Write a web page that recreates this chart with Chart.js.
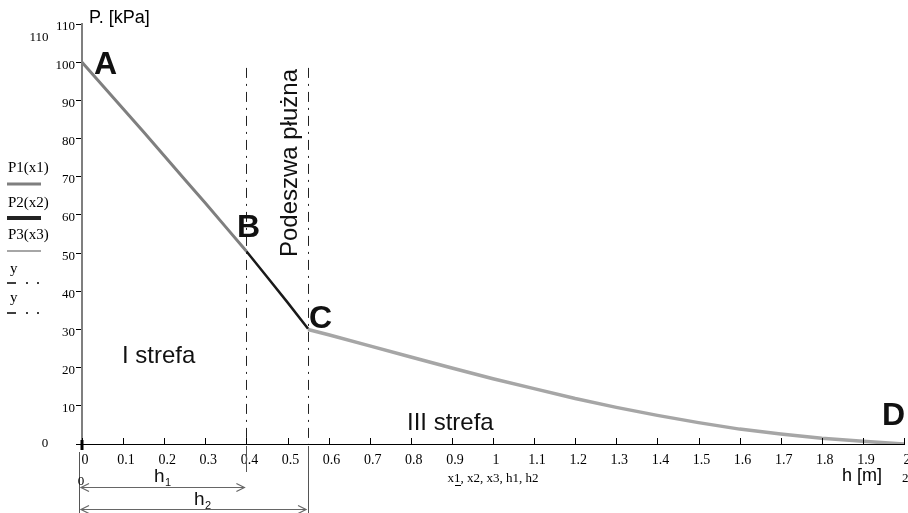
<!DOCTYPE html>
<html>
<head>
<meta charset="utf-8">
<script src="https://cdn.jsdelivr.net/npm/chart.js@4/dist/chart.umd.min.js"></script>
<style>
  body { margin: 0; background: #fff; }
  canvas { display: block; }
</style>
</head>
<body>
<canvas id="chart" width="908" height="513"></canvas>
<script>
// pressure P [kPa] against depth h [m], three zones
var p1_h = [0, 0.05, 0.1, 0.15, 0.2, 0.25, 0.3, 0.35, 0.4];
var p1_val = [100, 93.9, 87.8, 81.7, 75.5, 69.3, 63.1, 56.8, 50.5];

var p2_h = [0.4, 0.45, 0.5, 0.55];
var p2_val = [50.5, 43.8, 37.1, 30.2];

var p3_h = [0.55, 0.6, 0.7, 0.8, 0.9, 1.0, 1.1, 1.2, 1.3, 1.4, 1.5, 1.6, 1.7, 1.8, 1.9, 2.0];
var p3_val = [30, 28.6, 25.7, 22.8, 19.9, 17.1, 14.5, 11.9, 9.6, 7.5, 5.6, 3.9, 2.6, 1.5, 0.7, 0];

var h1 = 0.4;   // top of plough sole
var h2 = 0.55;  // bottom of plough sole

var legend_names = ['P1(x1)', 'P2(x2)', 'P3(x3)', 'y', 'y'];

function pts(xs, ys) {
    return xs.map(function (x, i) { return { x: x, y: ys[i] }; });
}

var serif = '"Liberation Serif", "Times New Roman", serif';
var sans = '"Liberation Sans", Arial, sans-serif';

var overlay = {
    id: 'overlay',
    afterDraw: function (chart) {
        var ctx = chart.ctx;
        var xs = chart.scales.x, ys = chart.scales.y;
        var X = function (v) { return xs.getPixelForValue(v); };
        var Y = function (v) { return ys.getPixelForValue(v); };
        var y0 = Y(0);

        ctx.save();

        // x axis: inner ticks and extension to the left
        ctx.strokeStyle = '#000';
        ctx.lineWidth = 1;
        ctx.beginPath();
        ctx.moveTo(76, y0 + 0.5);
        ctx.lineTo(X(0), y0 + 0.5);
        xs.ticks.forEach(function (t) {
            var px = Math.round(X(t.value)) + 0.5;
            ctx.moveTo(px, y0 - 6);
            ctx.lineTo(px, y0 + 1);
        });
        ctx.stroke();
        ctx.lineWidth = 3;
        ctx.beginPath();
        ctx.moveTo(X(0), y0 - 4);
        ctx.lineTo(X(0), y0 + 6);
        ctx.stroke();

        // dash-dot boundaries of the plough sole
        ctx.strokeStyle = '#222';
        ctx.lineWidth = 1;
        ctx.setLineDash([10, 6, 2, 6]);
        [h1, h2].forEach(function (v) {
            var px = Math.round(X(v)) + 0.5;
            ctx.beginPath();
            ctx.moveTo(px, Y(98.5));
            ctx.lineTo(px, y0);
            ctx.stroke();
        });
        ctx.setLineDash([]);

        // dimension lines below axis
        ctx.strokeStyle = '#555';
        ctx.beginPath();
        ctx.moveTo(Math.round(X(0)) - 2.5, y0 + 8);
        ctx.lineTo(Math.round(X(0)) - 2.5, 513);
        ctx.moveTo(Math.round(X(h1)) + 0.5, y0 + 2);
        ctx.lineTo(Math.round(X(h1)) + 0.5, y0 + 28);
        ctx.moveTo(Math.round(X(h2)) + 0.5, y0 + 2);
        ctx.lineTo(Math.round(X(h2)) + 0.5, 513);
        ctx.stroke();

        function arrow(xa, xb, yy) {
            ctx.strokeStyle = '#666';
            ctx.lineWidth = 1.2;
            ctx.beginPath();
            ctx.moveTo(xa, yy);
            ctx.lineTo(xb, yy);
            ctx.moveTo(xa + 8, yy - 4);
            ctx.lineTo(xa, yy);
            ctx.lineTo(xa + 8, yy + 4);
            ctx.moveTo(xb - 8, yy - 4);
            ctx.lineTo(xb, yy);
            ctx.lineTo(xb - 8, yy + 4);
            ctx.stroke();
        }
        arrow(X(0) - 1, X(h1) - 2, 487.5);
        arrow(X(0) - 1, X(h2) - 2, 509.5);

        // texts
        ctx.fillStyle = '#000';
        ctx.textBaseline = 'alphabetic';

        ctx.font = '18px ' + sans;
        ctx.textAlign = 'left';
        ctx.fillText('P. [kPa]', 89, 23);
        ctx.fillText('h [m]', 842, 481);

        ctx.font = 'bold 32px ' + sans;
        ctx.fillStyle = '#111';
        ctx.fillText('A', 94, 74);
        ctx.fillText('B', 237, 237);
        ctx.fillText('C', 309, 328);
        ctx.fillText('D', 882, 425);

        ctx.font = '24px ' + sans;
        ctx.fillText('I strefa', 122, 363);
        ctx.fillText('III strefa', 407, 430);

        ctx.save();
        ctx.translate(297, 163);
        ctx.rotate(-Math.PI / 2);
        ctx.textAlign = 'center';
        ctx.fillText('Podeszwa płużna', 0, 0);
        ctx.restore();

        ctx.font = '19px ' + sans;
        ctx.textAlign = 'left';
        ctx.fillText('h', 154, 482);
        ctx.fillText('h', 194, 505);
        ctx.font = '11px ' + sans;
        ctx.fillText('1', 165, 486);
        ctx.fillText('2', 205, 509);

        // Mathcad leftovers
        ctx.fillStyle = '#000';
        ctx.font = '13px ' + serif;
        ctx.textAlign = 'center';
        ctx.fillText('110', 39, 41);
        ctx.fillText('0', 45, 447);
        ctx.fillText('0', 81, 485);
        ctx.fillText('x1, x2, x3, h1, h2', 493, 482);
        ctx.textAlign = 'left';
        ctx.fillText('2', 902, 482);
        ctx.fillRect(455, 485, 6, 1);

        // legend on the left
        ctx.font = '15px ' + serif;
        var textY = [172, 207, 239, 273, 302];
        var lineY = [184, 218, 251, 283, 313];
        var lineCol = ['#7f7f7f', '#222', '#a6a6a6', '#000', '#000'];
        var lineW = [3, 4, 2, 1.5, 1.5];
        legend_names.forEach(function (name, i) {
            ctx.fillStyle = '#000';
            ctx.fillText(name, i < 3 ? 8 : 10, textY[i]);
            ctx.strokeStyle = lineCol[i];
            ctx.lineWidth = lineW[i];
            ctx.beginPath();
            if (i < 3) {
                ctx.moveTo(7, lineY[i]);
                ctx.lineTo(41, lineY[i]);
            } else {
                ctx.moveTo(7, lineY[i]);
                ctx.lineTo(16, lineY[i]);
                ctx.moveTo(26, lineY[i]);
                ctx.lineTo(28, lineY[i]);
                ctx.moveTo(37, lineY[i]);
                ctx.lineTo(39, lineY[i]);
            }
            ctx.stroke();
        });

        ctx.restore();
    }
};

var chart = new Chart(document.getElementById('chart'), {
    type: 'scatter',
    data: {
        datasets: [{
            label: 'P1(x1)',
            data: pts(p1_h, p1_val),
            showLine: true,
            borderColor: '#7f7f7f',
            borderWidth: 3,
            pointRadius: 0
        }, {
            label: 'P2(x2)',
            data: pts(p2_h, p2_val),
            showLine: true,
            borderColor: '#1a1a1a',
            borderWidth: 2.5,
            pointRadius: 0
        }, {
            label: 'P3(x3)',
            data: pts(p3_h, p3_val),
            showLine: true,
            borderColor: '#a6a6a6',
            borderWidth: 3.5,
            pointRadius: 0
        }]
    },
    options: {
        responsive: false,
        animation: false,
        layout: { padding: { top: 24, right: 4, left: 0, bottom: 0 } },
        plugins: {
            legend: { display: false },
            tooltip: { enabled: false }
        },
        scales: {
            x: {
                type: 'linear',
                min: 0,
                max: 2,
                afterFit: function (s) { s.height = 69; },
                border: { color: '#000', width: 1 },
                grid: { display: false },
                ticks: {
                    stepSize: 0.1,
                    padding: 0,
                    labelOffset: 3,
                    maxRotation: 0,
                    autoSkip: false,
                    color: '#000',
                    font: { family: serif, size: 14 },
                    callback: function (v) { return String(Math.round(v * 10) / 10); }
                }
            },
            y: {
                type: 'linear',
                min: 0,
                max: 110,
                afterFit: function (s) { s.width = 82; },
                border: { color: '#7f7f7f', width: 2 },
                grid: { drawOnChartArea: false, tickLength: 6, color: '#000' },
                ticks: {
                    stepSize: 10,
                    padding: 1,
                    labelOffset: 3,
                    color: '#000',
                    font: { family: serif, size: 13 },
                    callback: function (v) { return v === 0 ? '' : String(v); }
                }
            }
        }
    },
    plugins: [overlay]
});
</script>
</body>
</html>
